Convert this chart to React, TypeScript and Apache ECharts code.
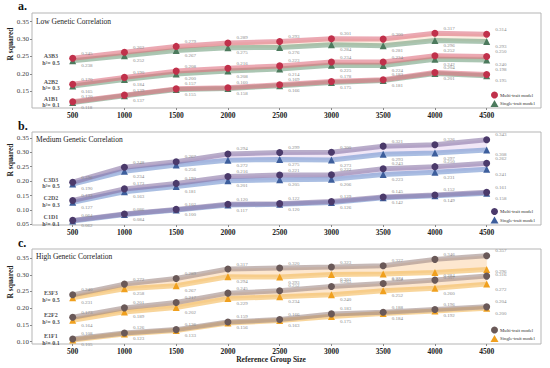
import React, { useEffect, useRef } from "react";
import * as echarts from "echarts";

const sizes = [500, 1000, 1500, 2000, 2500, 3000, 3500, 4000, 4500];

// Panel a: Low Genetic Correlation
const a3b3Multi = [0.245, 0.262, 0.279, 0.289, 0.293, 0.301, 0.300, 0.317, 0.314];
const a3b3Single = [0.238, 0.252, 0.267, 0.275, 0.276, 0.284, 0.281, 0.296, 0.293];
const a2b2Multi = [0.170, 0.190, 0.208, 0.216, 0.223, 0.234, 0.234, 0.252, 0.250];
const a2b2Single = [0.165, 0.184, 0.200, 0.208, 0.214, 0.225, 0.224, 0.242, 0.240];
const a1b1Multi = [0.120, 0.139, 0.157, 0.160, 0.169, 0.178, 0.183, 0.204, 0.198];
const a1b1Single = [0.118, 0.137, 0.155, 0.158, 0.166, 0.175, 0.181, 0.201, 0.195];

// Panel b: Medium Genetic Correlation
const c3d3Multi = [0.196, 0.248, 0.267, 0.294, 0.299, 0.300, 0.321, 0.326, 0.343];
const c3d3Single = [0.190, 0.234, 0.256, 0.272, 0.275, 0.273, 0.293, 0.297, 0.308];
const c2d2Multi = [0.133, 0.173, 0.192, 0.216, 0.221, 0.222, 0.243, 0.250, 0.262];
const c2d2Single = [0.127, 0.163, 0.181, 0.201, 0.205, 0.206, 0.223, 0.231, 0.241];
const c1d1Multi = [0.064, 0.086, 0.102, 0.120, 0.122, 0.129, 0.145, 0.152, 0.161];
const c1d1Single = [0.062, 0.084, 0.100, 0.117, 0.120, 0.126, 0.142, 0.149, 0.158];

// Panel c: High Genetic Correlation
const e3f3Multi = [0.240, 0.272, 0.289, 0.317, 0.320, 0.323, 0.327, 0.346, 0.357];
const e3f3Single = [0.231, 0.258, 0.267, 0.294, 0.293, 0.301, 0.302, 0.307, 0.316];
const e2f2Multi = [0.173, 0.201, 0.217, 0.245, 0.252, 0.265, 0.274, 0.284, 0.296];
const e2f2Single = [0.164, 0.189, 0.202, 0.229, 0.234, 0.240, 0.252, 0.260, 0.272];
const e1f1Multi = [0.108, 0.126, 0.136, 0.159, 0.166, 0.183, 0.188, 0.196, 0.204];
const e1f1Single = [0.105, 0.123, 0.133, 0.156, 0.163, 0.175, 0.184, 0.192, 0.200];

const yTicksA = [0.15, 0.2, 0.25, 0.3, 0.35];
const yTicksB = [0.05, 0.1, 0.15, 0.2, 0.25, 0.3, 0.35];
const yTicksC = [0.1, 0.15, 0.2, 0.25, 0.3, 0.35];

const panelTitles = ["Low Genetic Correlation", "Medium Genetic Correlation", "High Genetic Correlation"];
const panelLetters = ["a.", "b.", "c."];
const groupNamesA = ["A3B3", "A2B2", "A1B1"];
const groupNamesB = ["C3D3", "C2D2", "C1D1"];
const groupNamesC = ["E3F3", "E2F2", "E1F1"];
const heritabilities = ["0.5", "0.3", "0.1"];
const legendNames = ["Multi-trait model", "Single-trait model"];

const SERIF = "'Liberation Serif', 'DejaVu Serif', serif";

const panels = [
  {
    top: 13, height: 95, yMin: 0.102, yMax: 0.375, ticks: yTicksA,
    groups: [[a3b3Multi, a3b3Single], [a2b2Multi, a2b2Single], [a1b1Multi, a1b1Single]],
    names: groupNamesA,
    col: { mm: "#c0314b", ml: "#dd6f80", sm: "#4c7a5d", sl: "#7ea88b", fill: "#fcefe2" },
    legendY: 95, titleY: 21, letterY: 7, rY: 44,
  },
  {
    top: 132, height: 93, yMin: 0.048, yMax: 0.37, ticks: yTicksB,
    groups: [[c3d3Multi, c3d3Single], [c2d2Multi, c2d2Single], [c1d1Multi, c1d1Single]],
    names: groupNamesB,
    col: { mm: "#4b3a6b", ml: "#8a76a6", sm: "#3d5e9c", sl: "#7d9bd2", fill: "#f1e7f7" },
    legendY: 211.5, titleY: 139, letterY: 127, rY: 160,
  },
  {
    top: 249, height: 95, yMin: 0.093, yMax: 0.377, ticks: yTicksC,
    groups: [[e3f3Multi, e3f3Single], [e2f2Multi, e2f2Single], [e1f1Multi, e1f1Single]],
    names: groupNamesC,
    col: { mm: "#6a5958", ml: "#a08b87", sm: "#f0a01e", sl: "#f5bf66", fill: "#fde7cf" },
    legendY: 330, titleY: 256.5, letterY: 244, rY: 282,
  },
];

const pairs = (vals: number[]) => sizes.map((s, i) => [s, vals[i]]);

function buildOption() {
  const grid: any[] = [];
  const xAxis: any[] = [];
  const yAxis: any[] = [];
  const series: any[] = [];
  const graphic: any[] = [];

  panels.forEach((p, pi) => {
    grid.push({ left: 32, right: 9, top: p.top, height: p.height, show: true, borderColor: "#b5b5b5", borderWidth: 1, backgroundColor: "#fff" });
    xAxis.push({
      type: "value", gridIndex: pi, min: 107, max: 5025,
      axisLine: { show: false },
      axisTick: { show: true, length: 2, lineStyle: { color: "#888" }, customValues: sizes },
      splitLine: { show: false },
      axisLabel: { customValues: sizes, formatter: (v: number) => String(v), fontFamily: SERIF, fontWeight: "bold", fontSize: 7.5, color: "#222", margin: 3 },
    });
    yAxis.push({
      type: "value", gridIndex: pi, min: p.yMin, max: p.yMax,
      axisLine: { show: false },
      axisTick: { show: true, length: 2, lineStyle: { color: "#888" }, customValues: p.ticks },
      splitLine: { show: false },
      axisLabel: { customValues: p.ticks, formatter: (v: number) => v.toFixed(2), fontFamily: SERIF, fontSize: 7, color: "#444", margin: 3 },
    });

    p.groups.forEach(([multi, single], gi) => {
      const bandData = sizes.slice(0, -1).map((s, i) => [s, multi[i], single[i], sizes[i + 1], multi[i + 1], single[i + 1]]);
      const fill = p.col.fill;
      series.push({
        type: "custom", xAxisIndex: pi, yAxisIndex: pi, silent: true, z: 1,
        data: bandData,
        renderItem: (_params: any, api: any) => {
          const x0 = api.value(0), m0 = api.value(1), s0 = api.value(2);
          const x1 = api.value(3), m1 = api.value(4), s1 = api.value(5);
          const pts = [api.coord([x0, m0]), api.coord([x1, m1]), api.coord([x1, s1]), api.coord([x0, s0])];
          return { type: "polygon", shape: { points: pts }, style: { fill, stroke: fill, lineWidth: 0.5 } };
        },
        encode: { x: [0, 3], y: [1, 2, 4, 5] },
      });
      series.push({
        type: "line", xAxisIndex: pi, yAxisIndex: pi, data: pairs(single),
        symbol: "triangle", symbolSize: 7, z: 3,
        lineStyle: { color: p.col.sl, width: 5, opacity: 0.65 },
        itemStyle: { color: p.col.sm },
        label: {
          show: true, position: "right", distance: 5, offset: [0, 5],
          formatter: (d: any) => d.value[1].toFixed(3),
          fontFamily: SERIF, fontSize: 5, color: "#8a8a8a",
        },
      });
      series.push({
        type: "line", xAxisIndex: pi, yAxisIndex: pi, data: pairs(multi),
        symbol: "circle", symbolSize: 7, z: 4,
        lineStyle: { color: p.col.ml, width: 5, opacity: 0.6 },
        itemStyle: { color: p.col.mm },
        label: {
          show: true, position: "right", distance: 5, offset: [0, -5],
          formatter: (d: any) => d.value[1].toFixed(3),
          fontFamily: SERIF, fontSize: 5, color: "#8a8a8a",
        },
      });
      series.push({
        type: "scatter", xAxisIndex: pi, yAxisIndex: pi, silent: true,
        data: [[sizes[0], (multi[0] + single[0]) / 2]], symbolSize: 0, z: 5,
        label: {
          show: true, position: "left", distance: 13,
          formatter: () => `{n|${p.names[gi]}}\n{n|h²= ${heritabilities[gi]}}`,
          rich: { n: { fontFamily: SERIF, fontWeight: "bold", fontSize: 6, color: "#222", lineHeight: 6.5, align: "center" } },
        },
      });
    });

    graphic.push({ type: "text", left: 18, top: p.letterY - 7, style: { text: panelLetters[pi], font: `bold 12px ${SERIF}`, fill: "#111" } });
    graphic.push({ type: "text", x: 36, y: p.titleY, style: { text: panelTitles[pi], font: `7.5px ${SERIF}`, fill: "#222", verticalAlign: "middle" } });
    graphic.push({ type: "text", x: 10, y: p.rY, rotation: Math.PI / 2, style: { text: "R squared", font: `bold 7.5px ${SERIF}`, fill: "#222", align: "center", verticalAlign: "middle" } });
    graphic.push({ type: "circle", shape: { cx: 494.5, cy: p.legendY, r: 3.5 }, style: { fill: p.col.mm } });
    graphic.push({ type: "polygon", shape: { points: [[494.5, p.legendY + 5], [490.5, p.legendY + 12], [498.5, p.legendY + 12]] }, style: { fill: p.col.sm } });
    graphic.push({ type: "text", x: 500, y: p.legendY, style: { text: legendNames[0], font: `4.8px ${SERIF}`, fill: "#333", verticalAlign: "middle" } });
    graphic.push({ type: "text", x: 500, y: p.legendY + 8.5, style: { text: legendNames[1], font: `4.8px ${SERIF}`, fill: "#333", verticalAlign: "middle" } });
  });

  graphic.push({ type: "text", x: 271, y: 359, style: { text: "Reference Group Size", font: `bold 7.5px ${SERIF}`, fill: "#222", align: "center", verticalAlign: "middle" } });

  return { animation: false, backgroundColor: "#fff", grid, xAxis, yAxis, series, graphic };
}

export default function App() {
  const ref = useRef<HTMLDivElement>(null);
  useEffect(() => {
    if (!ref.current) return;
    const chart = echarts.init(ref.current, undefined, { renderer: "svg" });
    chart.setOption(buildOption() as any);
    return () => chart.dispose();
  }, []);
  return <div ref={ref} style={{ position: "absolute", left: 0, top: 0, width: 550, height: 368 }} />;
}
